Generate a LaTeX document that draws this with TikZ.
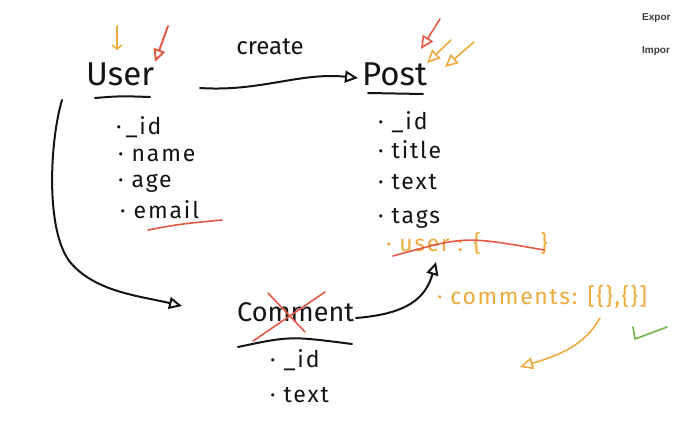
\documentclass[tikz,border=0pt]{standalone}
\usepackage{fontspec}
\setmainfont{Fira Sans}
\newfontfamily\uifont{Liberation Sans}
\usetikzlibrary{arrows.meta}
\definecolor{ink}{RGB}{20,20,20}
\definecolor{pen}{RGB}{238,170,60}
\definecolor{redpen}{RGB}{226,90,70}
\definecolor{greenpen}{RGB}{110,180,70}
\definecolor{uigray}{RGB}{60,60,60}
\tikzset{
  title/.style={font=\fontsize{33}{36}\selectfont, text=ink, inner sep=0pt},
  item/.style={font=\fontsize{23}{25}\selectfont\addfontfeature{LetterSpace=8}, text=ink, inner sep=0pt, anchor=west},
  oitem/.style={font=\fontsize{23}{25}\selectfont\addfontfeature{LetterSpace=7}, text=pen, inner sep=0pt, anchor=west},
  stroke/.style={draw=ink, line width=2pt, line cap=round},
  ostroke/.style={draw=pen, line width=1.6pt, line cap=round},
  rstroke/.style={draw=redpen, line width=1.6pt, line cap=round},
  opentip/.style={-{Triangle[open, length=13pt, width=12pt]}},
  ui/.style={font=\uifont\bfseries\fontsize{10}{12}\selectfont, text=uigray, inner sep=0pt, anchor=west}
}
\begin{document}
\begin{tikzpicture}[x=1pt,y=-1pt]
\useasboundingbox (0,0) rectangle (679,420);
% titles
\node[title, anchor=west] (user) at (86,74) {User};
\node[title, anchor=west] (post) at (362,74) {Post};
\node[title, anchor=west, font=\fontsize{27}{30}\selectfont] (comment) at (237,312) {Comment};
\node[font=\fontsize{24}{26}\selectfont, text=ink, inner sep=0pt] (create) at (270,47) {create};
% underlines
\draw[stroke] (95,98) .. controls (120,96) .. (150,97);
\draw[stroke] (368,93) -- (423,94);
\draw[stroke] (238,347) .. controls (290,336) .. (352,344);
% user items
\node[item] (u1) at (116,127) {·\,\_id};
\node[item] (u2) at (118,155) {· name};
\node[item] (u3) at (118,183) {· age};
\node[item] (u4) at (120,210) {· email};
\draw[rstroke] (148,230) .. controls (180,224) .. (222,220);
% post items
\node[item] (p1) at (378,122) {· \_id};
\node[item] (p2) at (378,150) {· title};
\node[item] (p3) at (378,182) {· text};
\node[item] (p4) at (378,218) {· tags};
\node[oitem] (p5) at (386,243) {· user : \{\hspace{2.6em}\}};
\draw[rstroke] (393,256) .. controls (465,236) .. (544,250);
% comment items
\node[item] (c1) at (270,360) {· \_id};
\node[item] (c2) at (270,395) {· text};
% crossed-out part of Comment
\draw[rstroke] (268,293) -- (305,332);
\draw[rstroke] (325,292) -- (253,341);
% orange comments field
\node[oitem] (cm) at (437,297) {· comments: [\{\},\{\}]};
% connectors
\coordinate (ustart) at (200,88);
\coordinate (pend) at (358,78);
\draw[stroke, opentip] (ustart) .. controls (260,92) and (300,72) .. (pend);
\coordinate (bstart) at (62,100);
\coordinate (bend) at (182,306);
\draw[stroke, opentip] (bstart) .. controls (50,140) and (45,230) .. (70,262) .. controls (95,292) and (140,296) .. (bend);
\coordinate (cstart) at (356,318);
\coordinate (cend) at (436,262);
\draw[stroke, opentip] (cstart) .. controls (405,314) and (425,300) .. (cend);
\coordinate (ostart) at (600,318);
\coordinate (oend) at (520,367);
\draw[ostroke, opentip] (ostart) .. controls (585,345) and (560,355) .. (oend);
% marker arrows
\coordinate (a1s) at (117,26);
\coordinate (a1e) at (117,50);
\draw[ostroke, -{Straight Barb[length=4pt,width=10pt]}] (a1s) -- (a1e);
\coordinate (a2s) at (168,26);
\coordinate (a2e) at (155,62);
\draw[rstroke, line width=2pt, opentip] (a2s) -- (a2e);
\coordinate (a3s) at (440,19);
\coordinate (a3e) at (421,49);
\draw[rstroke, opentip] (a3s) -- (a3e);
\coordinate (a4s) at (451,40);
\coordinate (a4e) at (427,63);
\draw[ostroke, opentip] (a4s) -- (a4e);
\coordinate (a5s) at (474,42);
\coordinate (a5e) at (445,67);
\draw[ostroke, opentip] (a5s) -- (a5e);
% green check
\draw[draw=greenpen, line width=1.6pt, line cap=round, line join=round] (633,327) -- (635,339) -- (667,327);
% ui
\node[ui] (exp) at (642,18) {Expor};
\node[ui] (imp) at (642,51) {Impor};
\end{tikzpicture}
\end{document}
